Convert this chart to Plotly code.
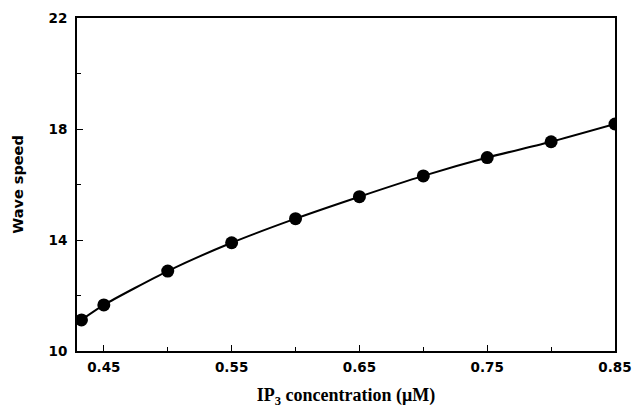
import plotly.graph_objects as go

ip3_conc = [0.4325, 0.45, 0.50, 0.55, 0.60, 0.65, 0.70, 0.75, 0.80, 0.85]
wave_speed = [11.12, 11.66, 12.88, 13.90, 14.77, 15.56, 16.31, 16.97, 17.54, 18.18]

x_major = [0.45, 0.55, 0.65, 0.75, 0.85]
x_labels = ["0.45", "0.55", "0.65", "0.75", "0.85"]
x_minor = [0.5, 0.6, 0.7, 0.8]
y_major = [10, 14, 18, 22]
y_labels = ["10", "14", "18", "22"]
y_minor = [12, 16, 20]

fig = go.Figure()
fig.add_trace(go.Scatter(
    x=ip3_conc, y=wave_speed, mode="lines+markers",
    line=dict(color="black", width=2, shape="spline", smoothing=0.6),
    marker=dict(color="black", size=13),
    cliponaxis=True, showlegend=False,
))

tickfont = dict(family="DejaVu Sans", size=13.5, color="black", weight="bold")

fig.update_layout(
    width=632, height=408,
    margin=dict(l=77, r=17, t=18, b=57),
    paper_bgcolor="white", plot_bgcolor="white",
    xaxis=dict(
        range=[0.429, 0.85], tickmode="array", tickvals=x_major, ticktext=x_labels,
        ticks="inside", ticklen=6, tickwidth=1, tickcolor="black",
        minor=dict(tickmode="array", tickvals=x_minor, ticks="inside", ticklen=4, tickcolor="black"),
        showline=True, linecolor="black", linewidth=2, mirror=True,
        showgrid=False, zeroline=False, tickfont=tickfont, ticklabelstandoff=3,
        title=dict(text="<b>IP<sub>3</sub> concentration (μM)</b>",
                   font=dict(family="Liberation Serif, Times New Roman", size=18, color="black"),
                   standoff=16),
        automargin=False,
    ),
    yaxis=dict(
        range=[10, 22], tickmode="array", tickvals=y_major, ticktext=y_labels,
        ticks="inside", ticklen=6, tickwidth=1, tickcolor="black",
        minor=dict(tickmode="array", tickvals=y_minor, ticks="inside", ticklen=4, tickcolor="black"),
        showline=True, linecolor="black", linewidth=2, mirror=True,
        showgrid=False, zeroline=False, tickfont=tickfont, ticklabelstandoff=5,
        title=dict(text="<b>Wave speed</b>",
                   font=dict(family="DejaVu Sans", size=14.5, color="black"),
                   standoff=21),
        automargin=False,
    ),
)

fig.write_html("out.html", config={"displayModeBar": False},
               post_script="document.body.style.margin='0';document.body.style.padding='0';")
